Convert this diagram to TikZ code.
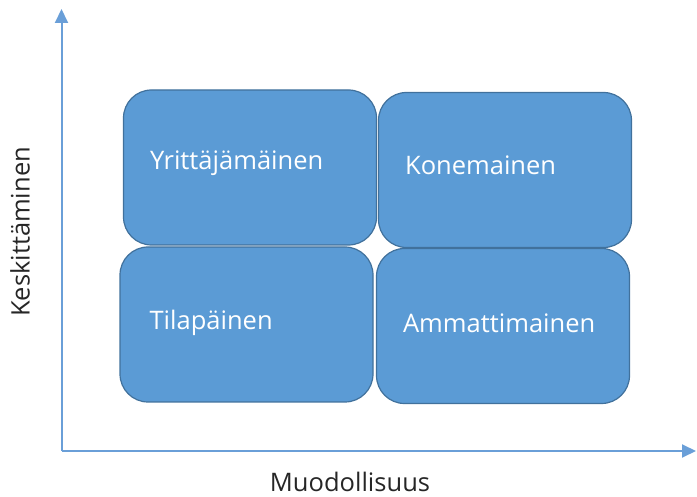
\documentclass[tikz,border=0pt]{standalone}
\usepackage{fontspec}
\setmainfont{Open Sans}
\usepackage{tikz}
\usetikzlibrary{positioning}
\usetikzlibrary{arrows.meta}
\usepackage{xcolor}

\definecolor{boxfill}{HTML}{5B9BD5}
\definecolor{boxline}{HTML}{41719C}
\definecolor{axisblue}{HTML}{6A9FD8}
\definecolor{tummateksti}{HTML}{262626}

\tikzset{
  kenttabox/.style={draw=boxline, fill=boxfill, line width=1.2pt, rounded corners=28pt,
    minimum width=253pt, minimum height=155pt, inner sep=0pt},
  kenttateksti/.style={anchor=west, text=white, font=\fontsize{25.5}{30}\selectfont, inner sep=0pt},
  akseli/.style={axisblue, line width=2pt, -{Triangle[length=14pt, width=13pt]}},
  akselinimi/.style={text=tummateksti, font=\fontsize{25.5}{30}\selectfont, inner sep=0pt}
}

\begin{document}
\begin{tikzpicture}[x=1pt, y=1pt]

\useasboundingbox (0,0) rectangle (697,-497);

% axes
{
\coordinate (origo) at (61.5,-451);
\coordinate (ylos) at (61.5,-9);
\coordinate (oikea) at (696,-451);

\draw[akseli] (origo) -- (ylos);
\draw[akseli] (origo) -- (oikea);
}

% boxes
{
\node[kenttabox] (tilapainen) at (246.5,-324.5) {};
\node[kenttabox] (ammatti) at (503,-326) {};
\node[kenttabox] (yrittaja) at (250,-167.5) {};
\node[kenttabox] (kone) at (505,-170) {};
}

% labellings
{
\node[kenttateksti] (t1) at ([xshift=27pt, yshift=4pt]yrittaja.west) {Yrittäjämäinen};
\node[kenttateksti] (t2) at ([xshift=27pt, yshift=5pt]kone.west) {Konemainen};
\node[kenttateksti] (t3) at ([xshift=30pt, yshift=2pt]tilapainen.west) {Tilapäinen};
\node[kenttateksti] (t4) at ([xshift=27pt, yshift=3pt]ammatti.west) {Ammattimainen};

\node[akselinimi, rotate=90] (ynimi) at (20,-232) {Keskittäminen};
\node[akselinimi, anchor=base] (xnimi) at (350,-491) {Muodollisuus};
}

\end{tikzpicture}
\end{document}
